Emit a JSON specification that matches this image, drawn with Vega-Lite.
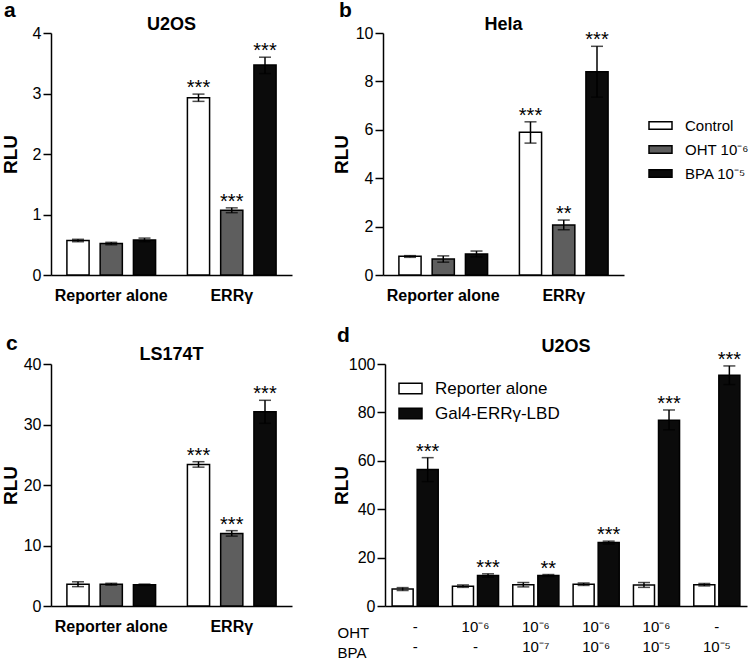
{
  "$schema": "https://vega.github.io/schema/vega-lite/v6.json",
  "padding": {"left": 1, "top": 0, "right": 0, "bottom": 0},
  "config": {
    "font": "Liberation Sans",
    "view": {"stroke": null},
    "axis": {"domainColor": "black", "tickColor": "black", "labelColor": "black", "titleColor": "black", "grid": false, "domainWidth": 1.5, "tickWidth": 1.5, "labelFont": "Liberation Sans", "titleFont": "Liberation Sans"},
    "legend": {"labelFont": "Liberation Sans", "labelColor": "black"},
    "title": {"color": "black", "font": "Liberation Sans"}
  },
  "datasets": {
    "a": [
      {"group": "Reporter alone", "treatment": "Control", "mean": 0.57, "lo": 0.55, "hi": 0.59, "sig": ""},
      {"group": "Reporter alone", "treatment": "OHT 10⁻⁶", "mean": 0.52, "lo": 0.50, "hi": 0.54, "sig": ""},
      {"group": "Reporter alone", "treatment": "BPA 10⁻⁵", "mean": 0.58, "lo": 0.55, "hi": 0.61, "sig": ""},
      {"group": "ERRγ", "treatment": "Control", "mean": 2.93, "lo": 2.87, "hi": 2.99, "sig": "***"},
      {"group": "ERRγ", "treatment": "OHT 10⁻⁶", "mean": 1.07, "lo": 1.03, "hi": 1.11, "sig": "***"},
      {"group": "ERRγ", "treatment": "BPA 10⁻⁵", "mean": 3.47, "lo": 3.33, "hi": 3.60, "sig": "***"}
    ],
    "b": [
      {"group": "Reporter alone", "treatment": "Control", "mean": 0.77, "lo": 0.73, "hi": 0.80, "sig": ""},
      {"group": "Reporter alone", "treatment": "OHT 10⁻⁶", "mean": 0.66, "lo": 0.53, "hi": 0.79, "sig": ""},
      {"group": "Reporter alone", "treatment": "BPA 10⁻⁵", "mean": 0.87, "lo": 0.75, "hi": 0.99, "sig": ""},
      {"group": "ERRγ", "treatment": "Control", "mean": 5.9, "lo": 5.45, "hi": 6.33, "sig": "***"},
      {"group": "ERRγ", "treatment": "OHT 10⁻⁶", "mean": 2.07, "lo": 1.87, "hi": 2.27, "sig": "**"},
      {"group": "ERRγ", "treatment": "BPA 10⁻⁵", "mean": 8.4, "lo": 7.35, "hi": 9.45, "sig": "***"}
    ],
    "c": [
      {"group": "Reporter alone", "treatment": "Control", "mean": 3.6, "lo": 3.2, "hi": 4.0, "sig": ""},
      {"group": "Reporter alone", "treatment": "OHT 10⁻⁶", "mean": 3.6, "lo": 3.45, "hi": 3.75, "sig": ""},
      {"group": "Reporter alone", "treatment": "BPA 10⁻⁵", "mean": 3.5, "lo": 3.38, "hi": 3.62, "sig": ""},
      {"group": "ERRγ", "treatment": "Control", "mean": 23.4, "lo": 22.95, "hi": 23.85, "sig": "***"},
      {"group": "ERRγ", "treatment": "OHT 10⁻⁶", "mean": 12.0, "lo": 11.55, "hi": 12.45, "sig": "***"},
      {"group": "ERRγ", "treatment": "BPA 10⁻⁵", "mean": 32.1, "lo": 30.2, "hi": 34.0, "sig": "***"}
    ],
    "d": [
      {"group": "-|-", "treatment": "Reporter alone", "mean": 7.0, "lo": 6.4, "hi": 7.6, "sig": ""},
      {"group": "-|-", "treatment": "Gal4-ERRγ-LBD", "mean": 56.4, "lo": 51.4, "hi": 61.3, "sig": "***"},
      {"group": "10⁻⁶|-", "treatment": "Reporter alone", "mean": 8.2, "lo": 7.7, "hi": 8.7, "sig": ""},
      {"group": "10⁻⁶|-", "treatment": "Gal4-ERRγ-LBD", "mean": 12.6, "lo": 11.9, "hi": 13.3, "sig": "***"},
      {"group": "10⁻⁶|10⁻⁷", "treatment": "Reporter alone", "mean": 8.8, "lo": 7.9, "hi": 9.7, "sig": ""},
      {"group": "10⁻⁶|10⁻⁷", "treatment": "Gal4-ERRγ-LBD", "mean": 12.6, "lo": 12.2, "hi": 13.0, "sig": "**"},
      {"group": "10⁻⁶|10⁻⁶", "treatment": "Reporter alone", "mean": 9.0, "lo": 8.5, "hi": 9.5, "sig": ""},
      {"group": "10⁻⁶|10⁻⁶", "treatment": "Gal4-ERRγ-LBD", "mean": 26.2, "lo": 25.6, "hi": 26.8, "sig": "***"},
      {"group": "10⁻⁶|10⁻⁵", "treatment": "Reporter alone", "mean": 8.7, "lo": 7.7, "hi": 9.7, "sig": ""},
      {"group": "10⁻⁶|10⁻⁵", "treatment": "Gal4-ERRγ-LBD", "mean": 76.8, "lo": 72.8, "hi": 81.0, "sig": "***"},
      {"group": "-|10⁻⁵", "treatment": "Reporter alone", "mean": 8.8, "lo": 8.3, "hi": 9.3, "sig": ""},
      {"group": "-|10⁻⁵", "treatment": "Gal4-ERRγ-LBD", "mean": 95.3, "lo": 91.5, "hi": 99.2, "sig": "***"}
    ]
  },
  "spacing": 21,
  "resolve": {"scale": {"fill": "independent", "xOffset": "independent", "x": "independent", "y": "independent"}, "legend": {"fill": "independent"}},
  "vconcat": [
    {
      "spacing": 40,
      "resolve": {"scale": {"fill": "independent", "xOffset": "independent", "x": "independent", "y": "independent"}, "legend": {"fill": "independent"}},
      "hconcat": [
        {
          "title": {"text": "a", "anchor": "start", "fontSize": 21, "fontWeight": "bold", "offset": -5, "dx": 3},
          "vconcat": [
            {
              "width": 241, "height": 242,
              "title": {"text": "U2OS", "fontSize": 18, "fontWeight": "bold", "offset": -9},
              "data": {"name": "a"},
              "encoding": {
                "x": {"field": "group", "type": "nominal", "sort": null, "title": null, "scale": {"type": "band", "paddingInner": 0.264, "paddingOuter": 0.132}, "axis": {"labelAngle": 0, "ticks": false, "labelFontSize": 16, "labelFontWeight": "bold", "labelPadding": 12}},
                "xOffset": {"field": "treatment", "type": "nominal", "sort": null, "scale": {"type": "band", "paddingInner": 0.333, "paddingOuter": 0}}
              },
              "layer": [
                {"mark": {"type": "bar", "stroke": "black", "strokeWidth": 1.5},
                 "encoding": {
                   "y": {"field": "mean", "type": "quantitative", "title": "RLU", "scale": {"domain": [0, 4]}, "axis": {"values": [0, 1, 2, 3, 4], "format": "d", "titleFontSize": 19, "titleFontWeight": "bold", "titleX": -35, "titleY": 121, "titleAlign": "center", "titleBaseline": "alphabetic", "labelFontSize": 16, "tickSize": 8, "labelPadding": 2}},
                   "fill": {"field": "treatment", "type": "nominal", "sort": null, "scale": {"domain": ["Control", "OHT 10⁻⁶", "BPA 10⁻⁵"], "range": ["#ffffff", "#5e5e5e", "#0b0b0b"]}, "legend": null}}},
                {"mark": {"type": "rule", "color": "black", "strokeWidth": 1.5},
                 "encoding": {"y": {"field": "lo", "type": "quantitative", "title": "RLU", "scale": {"domain": [0, 4]}}, "y2": {"field": "hi"}}},
                {"mark": {"type": "tick", "color": "black", "size": 12, "thickness": 1.5},
                 "encoding": {"y": {"field": "lo", "type": "quantitative", "title": "RLU", "scale": {"domain": [0, 4]}}}},
                {"mark": {"type": "tick", "color": "black", "size": 12, "thickness": 1.5},
                 "encoding": {"y": {"field": "hi", "type": "quantitative", "title": "RLU", "scale": {"domain": [0, 4]}}}},
                {"mark": {"type": "text", "fontSize": 20, "baseline": "alphabetic", "dy": 0, "color": "black"},
                 "encoding": {"y": {"field": "hi", "type": "quantitative", "title": "RLU", "scale": {"domain": [0, 4]}}, "text": {"field": "sig"}}}
              ]
            }
          ]
        },
        {
          "title": {"text": "b", "anchor": "start", "fontSize": 21, "fontWeight": "bold", "offset": -5, "dx": 7},
          "vconcat": [
            {
              "width": 241, "height": 242,
              "title": {"text": "Hela", "fontSize": 18, "fontWeight": "bold", "offset": -9},
              "data": {"name": "b"},
              "encoding": {
                "x": {"field": "group", "type": "nominal", "sort": null, "title": null, "scale": {"type": "band", "paddingInner": 0.264, "paddingOuter": 0.132}, "axis": {"labelAngle": 0, "ticks": false, "labelFontSize": 16, "labelFontWeight": "bold", "labelPadding": 12}},
                "xOffset": {"field": "treatment", "type": "nominal", "sort": null, "scale": {"type": "band", "paddingInner": 0.333, "paddingOuter": 0}}
              },
              "layer": [
                {"mark": {"type": "bar", "stroke": "black", "strokeWidth": 1.5},
                 "encoding": {
                   "y": {"field": "mean", "type": "quantitative", "title": "RLU", "scale": {"domain": [0, 10]}, "axis": {"values": [0, 2, 4, 6, 8, 10], "format": "d", "titleFontSize": 19, "titleFontWeight": "bold", "titleX": -36, "titleY": 121, "titleAlign": "center", "titleBaseline": "alphabetic", "labelFontSize": 16, "tickSize": 8, "labelPadding": 2}},
                   "fill": {"field": "treatment", "type": "nominal", "sort": null, "title": null, "scale": {"domain": ["Control", "OHT 10⁻⁶", "BPA 10⁻⁵"], "range": ["#ffffff", "#5e5e5e", "#0b0b0b"]},
                     "legend": {"orient": "none", "legendX": 265, "legendY": 80, "symbolType": "M-1,-0.32H1V0.32H-1Z", "symbolSize": 529, "symbolStrokeColor": "black", "symbolStrokeWidth": 1.5, "symbolOpacity": 1, "labelFontSize": 15, "labelOffset": 12, "rowPadding": 3, "padding": 0}}}},
                {"mark": {"type": "rule", "color": "black", "strokeWidth": 1.5},
                 "encoding": {"y": {"field": "lo", "type": "quantitative", "title": "RLU", "scale": {"domain": [0, 10]}}, "y2": {"field": "hi"}}},
                {"mark": {"type": "tick", "color": "black", "size": 12, "thickness": 1.5},
                 "encoding": {"y": {"field": "lo", "type": "quantitative", "title": "RLU", "scale": {"domain": [0, 10]}}}},
                {"mark": {"type": "tick", "color": "black", "size": 12, "thickness": 1.5},
                 "encoding": {"y": {"field": "hi", "type": "quantitative", "title": "RLU", "scale": {"domain": [0, 10]}}}},
                {"mark": {"type": "text", "fontSize": 20, "baseline": "alphabetic", "dy": 0, "color": "black"},
                 "encoding": {"y": {"field": "hi", "type": "quantitative", "title": "RLU", "scale": {"domain": [0, 10]}}, "text": {"field": "sig"}}}
              ]
            }
          ]
        }
      ]
    },
    {
      "spacing": 40,
      "resolve": {"scale": {"fill": "independent", "xOffset": "independent", "x": "independent", "y": "independent"}, "legend": {"fill": "independent"}},
      "hconcat": [
        {
          "title": {"text": "c", "anchor": "start", "fontSize": 21, "fontWeight": "bold", "offset": -8, "dx": 5},
          "vconcat": [
            {
              "width": 241, "height": 242,
              "title": {"text": "LS174T", "fontSize": 18, "fontWeight": "bold", "offset": -8},
              "data": {"name": "c"},
              "encoding": {
                "x": {"field": "group", "type": "nominal", "sort": null, "title": null, "scale": {"type": "band", "paddingInner": 0.264, "paddingOuter": 0.132}, "axis": {"labelAngle": 0, "ticks": false, "labelFontSize": 16, "labelFontWeight": "bold", "labelPadding": 12}},
                "xOffset": {"field": "treatment", "type": "nominal", "sort": null, "scale": {"type": "band", "paddingInner": 0.333, "paddingOuter": 0}}
              },
              "layer": [
                {"mark": {"type": "bar", "stroke": "black", "strokeWidth": 1.5},
                 "encoding": {
                   "y": {"field": "mean", "type": "quantitative", "title": "RLU", "scale": {"domain": [0, 40]}, "axis": {"values": [0, 10, 20, 30, 40], "format": "d", "titleFontSize": 19, "titleFontWeight": "bold", "titleX": -35, "titleY": 121, "titleAlign": "center", "titleBaseline": "alphabetic", "labelFontSize": 16, "tickSize": 8, "labelPadding": 2}},
                   "fill": {"field": "treatment", "type": "nominal", "sort": null, "scale": {"domain": ["Control", "OHT 10⁻⁶", "BPA 10⁻⁵"], "range": ["#ffffff", "#5e5e5e", "#0b0b0b"]}, "legend": null}}},
                {"mark": {"type": "rule", "color": "black", "strokeWidth": 1.5},
                 "encoding": {"y": {"field": "lo", "type": "quantitative", "title": "RLU", "scale": {"domain": [0, 40]}}, "y2": {"field": "hi"}}},
                {"mark": {"type": "tick", "color": "black", "size": 12, "thickness": 1.5},
                 "encoding": {"y": {"field": "lo", "type": "quantitative", "title": "RLU", "scale": {"domain": [0, 40]}}}},
                {"mark": {"type": "tick", "color": "black", "size": 12, "thickness": 1.5},
                 "encoding": {"y": {"field": "hi", "type": "quantitative", "title": "RLU", "scale": {"domain": [0, 40]}}}},
                {"mark": {"type": "text", "fontSize": 20, "baseline": "alphabetic", "dy": 0, "color": "black"},
                 "encoding": {"y": {"field": "hi", "type": "quantitative", "title": "RLU", "scale": {"domain": [0, 40]}}, "text": {"field": "sig"}}}
              ]
            }
          ]
        },
        {
          "title": {"text": "d", "anchor": "start", "fontSize": 21, "fontWeight": "bold", "offset": -8, "dx": 5},
          "vconcat": [
            {
              "width": 362, "height": 242,
              "title": {"text": "U2OS", "fontSize": 18, "fontWeight": "bold", "offset": -6},
              "data": {"name": "d"},
              "encoding": {
                "x": {"field": "group", "type": "nominal", "sort": null, "title": ["OHT", "BPA"], "scale": {"type": "band", "paddingInner": 0.236, "paddingOuter": 0.118},
                  "axis": {"labelAngle": 0, "ticks": false, "labelFontSize": 15, "labelLineHeight": 20, "labelPadding": 13, "labelBaseline": "top", "labelExpr": "split(datum.value, '|')",
                    "titleFontSize": 15, "titleFontWeight": "normal", "titleLineHeight": 20, "titleX": -48, "titleY": 31, "titleAlign": "left", "titleBaseline": "alphabetic", "titleAnchor": "start"}},
                "xOffset": {"field": "treatment", "type": "nominal", "sort": null, "scale": {"type": "band", "paddingInner": 0.16, "paddingOuter": 0}}
              },
              "layer": [
                {"mark": {"type": "bar", "stroke": "black", "strokeWidth": 1.5},
                 "encoding": {
                   "y": {"field": "mean", "type": "quantitative", "title": "RLU", "scale": {"domain": [0, 100]}, "axis": {"values": [0, 20, 40, 60, 80, 100], "format": "d", "titleFontSize": 19, "titleFontWeight": "bold", "titleX": -38, "titleY": 121, "titleAlign": "center", "titleBaseline": "alphabetic", "labelFontSize": 16, "tickSize": 8, "labelPadding": 2}},
                   "fill": {"field": "treatment", "type": "nominal", "sort": null, "title": null, "scale": {"domain": ["Reporter alone", "Gal4-ERRγ-LBD"], "range": ["#ffffff", "#0b0b0b"]},
                     "legend": {"orient": "none", "legendX": 13, "legendY": 12, "symbolType": "M-1,-0.46H1V0.46H-1Z", "symbolSize": 529, "symbolStrokeColor": "black", "symbolStrokeWidth": 1.5, "symbolOpacity": 1, "labelFontSize": 17, "labelOffset": 12, "rowPadding": 4, "padding": 0}}}},
                {"mark": {"type": "rule", "color": "black", "strokeWidth": 1.5},
                 "encoding": {"y": {"field": "lo", "type": "quantitative", "title": "RLU", "scale": {"domain": [0, 100]}}, "y2": {"field": "hi"}}},
                {"mark": {"type": "tick", "color": "black", "size": 12, "thickness": 1.5},
                 "encoding": {"y": {"field": "lo", "type": "quantitative", "title": "RLU", "scale": {"domain": [0, 100]}}}},
                {"mark": {"type": "tick", "color": "black", "size": 12, "thickness": 1.5},
                 "encoding": {"y": {"field": "hi", "type": "quantitative", "title": "RLU", "scale": {"domain": [0, 100]}}}},
                {"mark": {"type": "text", "fontSize": 20, "baseline": "alphabetic", "dy": 0, "color": "black"},
                 "encoding": {"y": {"field": "hi", "type": "quantitative", "title": "RLU", "scale": {"domain": [0, 100]}}, "text": {"field": "sig"}}}
              ]
            }
          ]
        }
      ]
    }
  ]
}
